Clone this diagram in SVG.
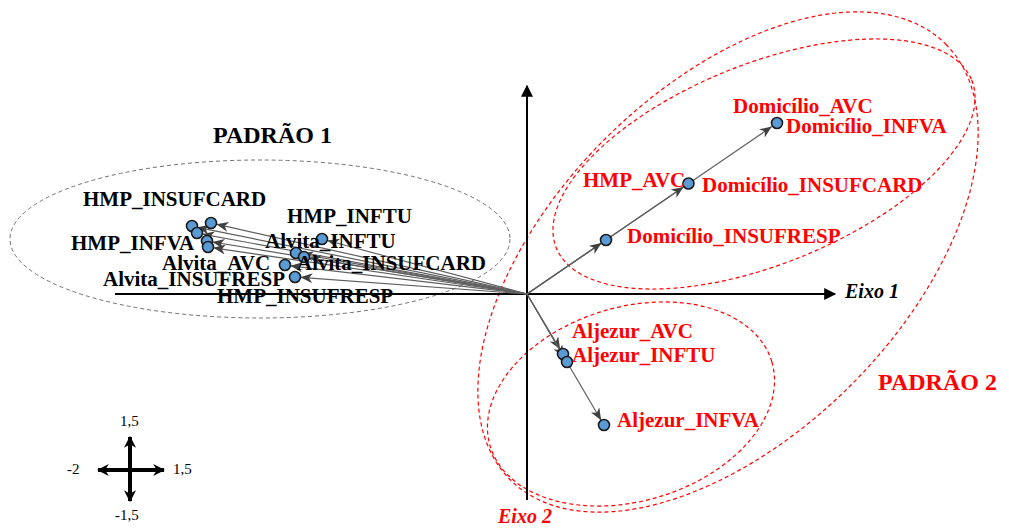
<svg xmlns="http://www.w3.org/2000/svg" width="1009" height="528" viewBox="0 0 1009 528">
<style>
.lbl{font-family:"Liberation Serif","Times New Roman",serif;font-weight:bold;font-size:21px;fill:#000}
.red{fill:#ff0000}
.title{font-family:"Liberation Serif","Times New Roman",serif;font-weight:bold;font-size:24px}
.axl{font-family:"Liberation Serif","Times New Roman",serif;font-weight:bold;font-style:italic;font-size:20px}
.sc{font-family:"Liberation Serif","Times New Roman",serif;font-size:15px;fill:#000}
.pt{fill:#5b9bd5;stroke:#1a1a1a;stroke-width:1.6}
.con{stroke:#606060;stroke-width:1.2;fill:none;marker-end:url(#ah)}
.rdash{fill:none;stroke:#ff0000;stroke-width:1.2;stroke-dasharray:4,3}
.gdash{fill:none;stroke:#707070;stroke-width:1;stroke-dasharray:4,3}
</style>
<defs>
<marker id="ah" viewBox="0 0 12 10" refX="12" refY="5" markerWidth="12" markerHeight="10" markerUnits="userSpaceOnUse" orient="auto">
<path d="M0,0 L12,5 L0,10 L3.5,5 z" fill="#404040"/>
</marker>
<marker id="axh" viewBox="0 0 10 10" refX="9" refY="5" markerWidth="14" markerHeight="12" markerUnits="userSpaceOnUse" orient="auto">
<path d="M0,0 L10,5 L0,10 z" fill="#000"/>
</marker>
<marker id="sch" viewBox="0 0 10 10" refX="9" refY="5" markerWidth="12" markerHeight="12" markerUnits="userSpaceOnUse" orient="auto">
<path d="M0,0 L10,5 L0,10 L3,5 z" fill="#000"/>
</marker>
</defs>
<rect width="1009" height="528" fill="#fff"/>

<g id="groups">
<ellipse class="gdash" cx="260" cy="239" rx="250" ry="79"/>
<ellipse class="rdash" cx="0" cy="0" rx="308" ry="174" transform="translate(728,262) rotate(-45)"/>
<ellipse class="rdash" cx="0" cy="0" rx="224" ry="100" transform="translate(764,164) rotate(-22)"/>
<ellipse class="rdash" cx="0" cy="0" rx="147" ry="97" transform="translate(631,404) rotate(-16.7)"/>
</g>

<g id="axes">
<line x1="115" y1="294" x2="835" y2="294" stroke="#000" stroke-width="2" marker-end="url(#axh)"/>
<line x1="527" y1="500" x2="527" y2="86" stroke="#000" stroke-width="2" marker-end="url(#axh)"/>
<text class="axl" x="845" y="298" fill="#000">Eixo 1</text>
<text class="axl" x="498" y="523" fill="#ff0000">Eixo 2</text>
</g>

<g id="connectors">
<line class="con" x1="527" y1="294" x2="771.8" y2="126.6"/>
<line class="con" x1="527" y1="294" x2="683.5" y2="186.9"/>
<line class="con" x1="527" y1="294" x2="601.5" y2="243.1"/>
<line class="con" x1="527" y1="294" x2="560.1" y2="349.2"/>
<line class="con" x1="527" y1="294" x2="564.0" y2="357.2"/>
<line class="con" x1="527" y1="294" x2="601.1" y2="420.2"/>
<line class="con" x1="527" y1="294" x2="197.3" y2="227.3"/>
<line class="con" x1="527" y1="294" x2="216.4" y2="224.2"/>
<line class="con" x1="527" y1="294" x2="202.4" y2="234.1"/>
<line class="con" x1="527" y1="294" x2="212.4" y2="242.0"/>
<line class="con" x1="527" y1="294" x2="213.4" y2="247.8"/>
<line class="con" x1="527" y1="294" x2="327.3" y2="240.5"/>
<line class="con" x1="527" y1="294" x2="301.3" y2="254.1"/>
<line class="con" x1="527" y1="294" x2="309.3" y2="257.9"/>
<line class="con" x1="527" y1="294" x2="290.3" y2="265.8"/>
<line class="con" x1="527" y1="294" x2="300.5" y2="277.3"/>
</g>

<g id="n-domicilio-infva"><circle class="pt" cx="777" cy="123" r="5.5"/></g>
<g id="n-domicilio-insufcard"><circle class="pt" cx="688.5" cy="183.5" r="5.5"/></g>
<g id="n-domicilio-insufresp"><circle class="pt" cx="606" cy="240" r="5.5"/></g>
<g id="n-aljezur-avc"><circle class="pt" cx="563" cy="354" r="5.5"/></g>
<g id="n-aljezur-inftu"><circle class="pt" cx="567" cy="362" r="5.5"/></g>
<g id="n-aljezur-infva"><circle class="pt" cx="604" cy="425" r="5.5"/></g>
<g id="n-hmp-1"><circle class="pt" cx="192" cy="226" r="5.5"/></g>
<g id="n-hmp-2"><circle class="pt" cx="211" cy="223" r="5.5"/></g>
<g id="n-hmp-3"><circle class="pt" cx="197" cy="233" r="5.5"/></g>
<g id="n-hmp-4"><circle class="pt" cx="207" cy="241" r="5.5"/></g>
<g id="n-hmp-5"><circle class="pt" cx="208" cy="247" r="5.5"/></g>
<g id="n-alvita-inftu"><circle class="pt" cx="322" cy="239" r="5.5"/></g>
<g id="n-alvita-1"><circle class="pt" cx="296" cy="253" r="5.5"/></g>
<g id="n-alvita-2"><circle class="pt" cx="304" cy="257" r="5.5"/></g>
<g id="n-alvita-avc"><circle class="pt" cx="285" cy="265" r="5.5"/></g>
<g id="n-alvita-insufresp"><circle class="pt" cx="295" cy="277" r="5.5"/></g>

<g id="labels">
<text class="title" x="213" y="143" fill="#000">PADRÃO 1</text>
<text class="title" x="878" y="390" fill="#ff0000">PADRÃO 2</text>
<text class="lbl" x="83" y="206">HMP_INSUFCARD</text>
<text class="lbl" x="287" y="223">HMP_INFTU</text>
<text class="lbl" x="71" y="250">HMP_INFVA</text>
<text class="lbl" x="265" y="248">Alvita_INFTU</text>
<text class="lbl" x="162" y="270">Alvita_AVC</text>
<text class="lbl" x="297" y="270">Alvita_INSUFCARD</text>
<text class="lbl" x="103" y="286">Alvita_INSUFRESP</text>
<text class="lbl" x="217" y="303">HMP_INSUFRESP</text>
<text class="lbl red" x="733" y="113">Domicílio_AVC</text>
<text class="lbl red" x="786" y="133">Domicílio_INFVA</text>
<text class="lbl red" x="583" y="187">HMP_AVC</text>
<text class="lbl red" x="702" y="192">Domicílio_INSUFCARD</text>
<text class="lbl red" x="627" y="243">Domicílio_INSUFRESP</text>
<text class="lbl red" x="572" y="338">Aljezur_AVC</text>
<text class="lbl red" x="572" y="362">Aljezur_INFTU</text>
<text class="lbl red" x="617" y="427">Aljezur_INFVA</text>
</g>

<g id="scale">
<line x1="130" y1="470" x2="130" y2="437" stroke="#000" stroke-width="4" marker-end="url(#sch)"/>
<line x1="130" y1="470" x2="130" y2="501" stroke="#000" stroke-width="4" marker-end="url(#sch)"/>
<line x1="130" y1="470" x2="98" y2="470" stroke="#000" stroke-width="4" marker-end="url(#sch)"/>
<line x1="130" y1="470" x2="164" y2="470" stroke="#000" stroke-width="4" marker-end="url(#sch)"/>
<text class="sc" x="120" y="426">1,5</text>
<text class="sc" x="67" y="474">-2</text>
<text class="sc" x="173" y="474">1,5</text>
<text class="sc" x="115" y="520">-1,5</text>
</g>
</svg>
